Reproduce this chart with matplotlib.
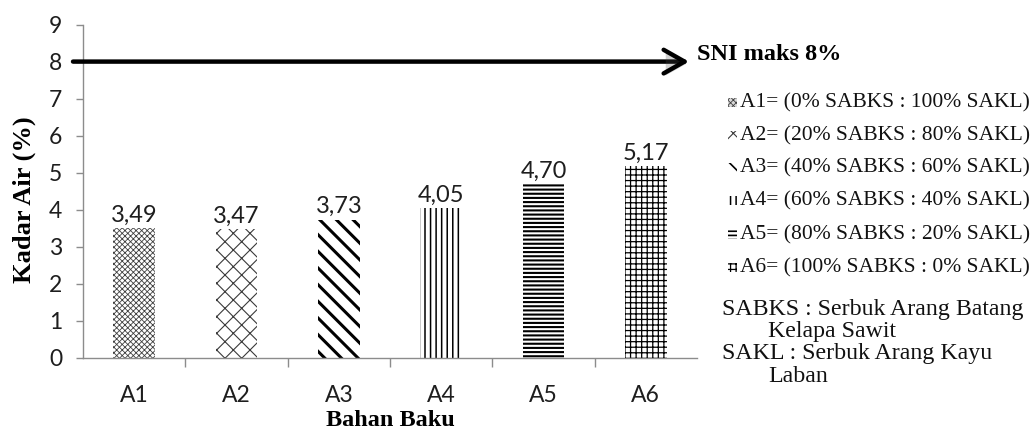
import matplotlib
matplotlib.use("Agg")
import matplotlib.pyplot as plt
from matplotlib.patches import Rectangle
import matplotlib.patheffects as pe

# ---- data ----
categories = ["A1", "A2", "A3", "A4", "A5", "A6"]
kadar_air = [3.49, 3.47, 3.73, 4.05, 4.70, 5.17]
value_labels = ["3,49", "3,47", "3,73", "4,05", "4,70", "5,17"]
sni_max = 8
sni_label = "SNI maks 8%"
legend_labels = [
    "A1= (0% SABKS : 100% SAKL)",
    "A2= (20% SABKS : 80% SAKL)",
    "A3= (40% SABKS : 60% SAKL)",
    "A4= (60% SABKS : 40% SAKL)",
    "A5= (80% SABKS : 20% SAKL)",
    "A6= (100% SABKS : 0% SAKL)",
]
note_lines = [
    ("SABKS : Serbuk Arang Batang", 0),
    ("Kelapa Sawit", 1),
    ("SAKL : Serbuk Arang Kayu", 0),
    ("Laban", 1),
]
y_ticks = list(range(0, 10))

# ---- styles ----
hatches = ["xxxxxx", "xx", "\\\\", "|||", "----", "+++"]
hatch_colors = ["#404040", "#3a3a3a", "black", "black", "black", "black"]
hatch_lws = [0.6, 0.8, 2.2, 1.1, 1.5, 0.9]
SANS = ["Lato", "DejaVu Sans"]
SERIF = ["Liberation Serif", "DejaVu Serif"]
AXIS_GREY = "#8c8c8c"
TEXT_COL = "#1e1e1e"

W, H = 1035, 430
fig = plt.figure(figsize=(W / 100, H / 100), dpi=100)
ax = fig.add_axes([83 / W, 1 - 357.5 / H, 614 / W, (357.5 - 24.6) / H])

x = list(range(len(categories)))
for i in x:
    plt.rcParams["hatch.linewidth"] = hatch_lws[i]
    bar = ax.bar(i, kadar_air[i], width=0.41, facecolor="white",
                 edgecolor=hatch_colors[i], linewidth=0, hatch=hatches[i])
    for p in bar.patches:
        if hasattr(p, "set_hatch_linewidth"):
            p.set_hatch_linewidth(hatch_lws[i])
    ax.annotate(value_labels[i], (i, kadar_air[i]), xytext=(0, 4.5),
                textcoords="offset points", ha="center", va="baseline",
                fontsize=17, family=SANS, color=TEXT_COL)

ax.set_xlim(-0.5, len(categories) - 0.5)
ax.set_ylim(0, 9)

# spines
for s in ["top", "right"]:
    ax.spines[s].set_visible(False)
for s in ["left", "bottom"]:
    ax.spines[s].set_color(AXIS_GREY)
    ax.spines[s].set_linewidth(1.0)

# y axis
ax.set_yticks(y_ticks)
ax.set_yticklabels([str(v) for v in y_ticks], family=SANS, fontsize=16.5, color=TEXT_COL)
ax.tick_params(axis="y", direction="out", length=5, width=1, color=AXIS_GREY, pad=10)

# x axis: ticks at category borders, labels at centres
ax.set_xticks([i - 0.5 for i in range(1, len(categories))])
ax.set_xticklabels([])
ax.tick_params(axis="x", which="major", direction="out", length=6.5, width=1, color=AXIS_GREY)
ax.set_xticks(x, minor=True)
ax.set_xticklabels(categories, minor=True, family=SANS, fontsize=16.5, color=TEXT_COL)
ax.tick_params(axis="x", which="minor", length=0, pad=20)

# axis titles
fig.text(24 / W, 1 - 200 / H, "Kadar Air (%)", rotation=90, ha="center", va="center",
         family=SERIF, fontweight="bold", fontsize=19, color="black")
fig.text(390 / W, 1 - 426 / H, "Bahan Baku", ha="center", va="baseline",
         family=SERIF, fontweight="bold", fontsize=17.5, color="black")

# SNI limit arrow
ax.annotate("", xy=(606 / 614, sni_max), xytext=(-10 / 614, sni_max),
            xycoords=("axes fraction", "data"), textcoords=("axes fraction", "data"),
            arrowprops=dict(arrowstyle="->,head_length=1.5,head_width=0.85",
                            mutation_scale=10, lw=3.2, color="black",
                            shrinkA=0, shrinkB=0,
                            path_effects=[pe.SimplePatchShadow(offset=(1.5, -1.5),
                                                               alpha=0.25),
                                          pe.Normal()]),
            annotation_clip=False)
fig.text(697 / W, 1 - 54 / H, sni_label, ha="left", va="center",
         family=SERIF, fontweight="bold", fontsize=17.5, color="black")

# legend rows with small pattern keys
row_y = [103, 136, 168, 201, 235, 268]
for i, (lab, yy) in enumerate(zip(legend_labels, row_y)):
    plt.rcParams["hatch.linewidth"] = min(hatch_lws[i], 1.2)
    face = "#d9d9d9" if i == 0 else "white"
    key = Rectangle((728 / W, 1 - (yy + 4) / H), 9 / W, 9 / H,
                    transform=fig.transFigure, facecolor=face,
                    edgecolor=hatch_colors[i], linewidth=0, hatch=hatches[i])
    fig.patches.append(key)
    fig.text(740 / W, 1 - yy / H, lab, ha="left", va="center",
             family=SERIF, fontsize=15.5, color="#111111")

# abbreviation notes
note_y = [310, 332, 354, 376]
for (txt, indent), yy in zip(note_lines, note_y):
    xx = 722 if indent == 0 else 768
    fig.text(xx / W, 1 - yy / H, txt, ha="left", va="center",
             family=SERIF, fontsize=17.2, color="#111111")

fig.savefig("out.png", dpi=100, facecolor="white")
